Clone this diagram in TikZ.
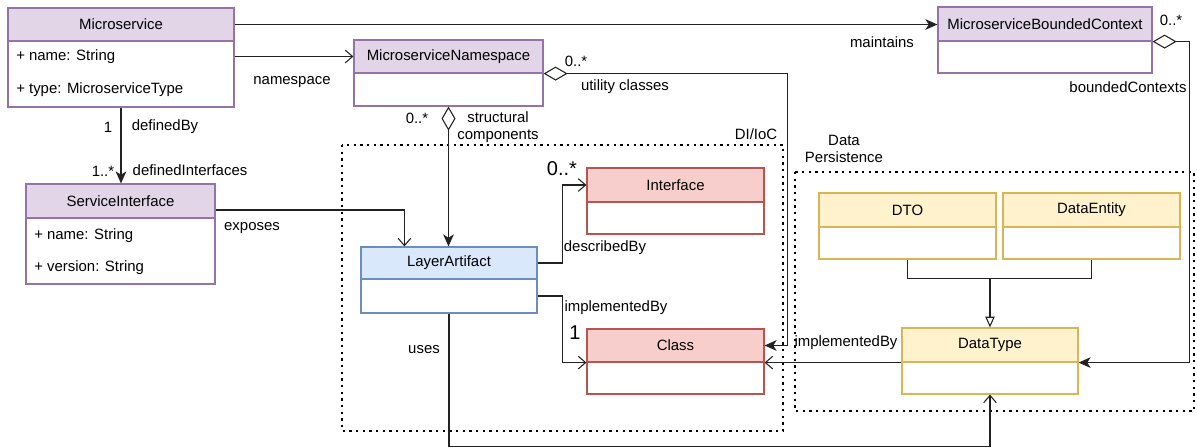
\documentclass[tikz,border=0pt]{standalone}
\usepackage{fontspec}
\setmainfont{Liberation Sans}
\usetikzlibrary{arrows.meta,calc}
\definecolor{purF}{HTML}{E1D5E7}\definecolor{purD}{HTML}{9673A6}
\definecolor{bluF}{HTML}{DAE8FC}\definecolor{bluD}{HTML}{6C8EBF}
\definecolor{redF}{HTML}{F8CECC}\definecolor{redD}{HTML}{B85450}
\definecolor{yelF}{HTML}{FFF2CC}\definecolor{yelD}{HTML}{D6B656}
\definecolor{ln}{HTML}{222222}
\tikzset{
  base/.style={font=\fontsize{11.2}{13}\selectfont, text=black},
  hdr/.style={base, draw, line width=0.9pt, inner sep=0pt},
  bdy/.style={draw, line width=0.9pt, inner sep=0pt, fill=white},
  pur/.style={draw=purD, fill=purF},
  blu/.style={draw=bluD, fill=bluF},
  red/.style={draw=redD, fill=redF},
  yel/.style={draw=yelD, fill=yelF},
  lbl/.style={base, inner sep=0pt},
  biglbl/.style={font=\fontsize{15}{17}\selectfont, inner sep=0pt},
  attr/.style={base, inner sep=0pt, anchor=west},
  conn/.style={draw=ln, line width=0.8pt},
  filled/.style={conn, -{Stealth[length=9pt,width=8pt,inset=2.5pt]}},
  openarr/.style={conn, -{Straight Barb[length=5.5pt,width=9.5pt]}},
  aggf/.style={conn, {Diamond[open,fill=white,length=18pt,width=10.5pt]}-{Stealth[length=9pt,width=8pt,inset=2.5pt]}},
  gen/.style={conn, -{Triangle[open,fill=white,length=8pt,width=7pt]}},
  dotbox/.style={draw=black, line width=2.2pt, dash pattern=on 1.8pt off 3.2pt}
}
\newcommand\umlbox[8]{%
  \node[hdr, #7, minimum width={0.75pt*(#4-#2)}, minimum height={0.75pt*(#5-#3)}]
    (#1) at ({(#2+#4)/2},{(#3+#5)/2}) {#8};
  \node[bdy, #7, fill=white, minimum width={0.75pt*(#4-#2)}, minimum height={0.75pt*(#6-#5)}]
    (#1-b) at ({(#2+#4)/2},{(#5+#6)/2}) {};
}
\begin{document}
\begin{tikzpicture}[x=0.75pt,y=-0.75pt]
\useasboundingbox (0,0) rectangle (1197,448);
% dotted regions
\draw[dotbox] (342,145) rectangle (783,431);
\draw[dotbox] (795,172) rectangle (1194,411);
\node[lbl] (diioc) at (756,134) {DI/IoC};
\node[lbl, align=center] (dpers) at (844,149) {Data\\Persistence};
% classes
\umlbox{ms}{8}{8}{234}{41}{107}{pur}{Microservice}
\umlbox{ns}{354}{40}{543}{73}{106}{pur}{MicroserviceNamespace}
\umlbox{bc}{938}{7}{1152}{41}{73}{pur}{MicroserviceBoundedContext}
\umlbox{si}{26}{184}{215}{218}{284}{pur}{ServiceInterface}
\umlbox{la}{361}{247}{537}{279}{313}{blu}{LayerArtifact}
\umlbox{if}{587}{168}{764}{202}{234}{red}{Interface}
\umlbox{cl}{587}{329}{764}{362}{394}{red}{Class}
\umlbox{dto}{819}{193}{996}{227}{259}{yel}{DTO}
\umlbox{de}{1003}{193}{1180}{227}{259}{yel}{DataEntity}
\umlbox{dt}{902}{328}{1078}{362}{394}{yel}{DataType}
% attributes
\node[attr] (msa1) at (16,57) {+ name: String};
\node[attr] (msa2) at (16,90) {+ type: MicroserviceType};
\node[attr] (sia1) at (34,236) {+ name: String};
\node[attr] (sia2) at (34,268) {+ version: String};
% connectors
\draw[filled] (ms.east) -- (ms.east -| bc.west);
\node[lbl] (lmaint) at (882,42) {maintains};
\draw[openarr] (ms-b.east |- ns.west) -- (ns.west);
\node[lbl] (lns) at (292,82) {namespace};
\draw[filled] (ms-b.south) -- (ms-b.south |- si.north);
\node[lbl] (l1a) at (108,127) {1};
\node[lbl] (ldefby) at (165,127) {definedBy};
\node[lbl] (l1s) at (103,171) {1..*};
\node[lbl] (ldefi) at (190,170) {definedInterfaces};
\draw[aggf] (ns-b.south) -- (ns-b.south |- la.north);
\node[lbl] (l0a) at (417,118) {0..*};
\node[lbl, align=center] (lstruct) at (498,127) {structural\\components};
\draw[aggf] (ns.south east) -| ($(cl.east)+(23,0)$) -- (cl.east);
\node[lbl] (l0b) at (576,61) {0..*};
\node[lbl] (lutil) at (625,87) {utility classes};
\draw[aggf] (bc.south east) -| ($(dt.south east)+(111,0)$) -- (dt.south east);
\node[lbl] (l0c) at (1171,20) {0..*};
\node[lbl] (lbcs) at (1128,87) {boundedContexts};
\draw[openarr] ($(si.east)+(0,9)$) -| ($(la.north west)+(44,0)$);
\node[lbl] (lexp) at (252,228) {exposes};
\draw[openarr] (la.east) -- ++(25,0) |- (if.west);
\node[biglbl] (l0d) at (562,169) {0..*};
\node[lbl] (ldesc) at (605,248) {describedBy};
\draw[openarr] (la-b.east) -- ++(25,0) |- (cl.south west);
\node[lbl] (limpl1) at (616,308) {implementedBy};
\node[biglbl] (l1c) at (575,333) {1};
\draw[openarr] (dt.south west) -- (cl.south east);
\node[lbl] (limpl2) at (846,343) {implementedBy};
\draw[openarr] (la-b.south) -- ++(0,133) -| (dt-b.south);
\node[lbl] (luses) at (424,350) {uses};
\path (dto-b.south) ++(0,19) coordinate (jl);
\coordinate (jc) at (dt.north |- jl);
\draw[conn] (dto-b.south) -- (jl) -| (de-b.south);
\draw[gen] (jc) -- (dt.north);
\end{tikzpicture}
\end{document}
